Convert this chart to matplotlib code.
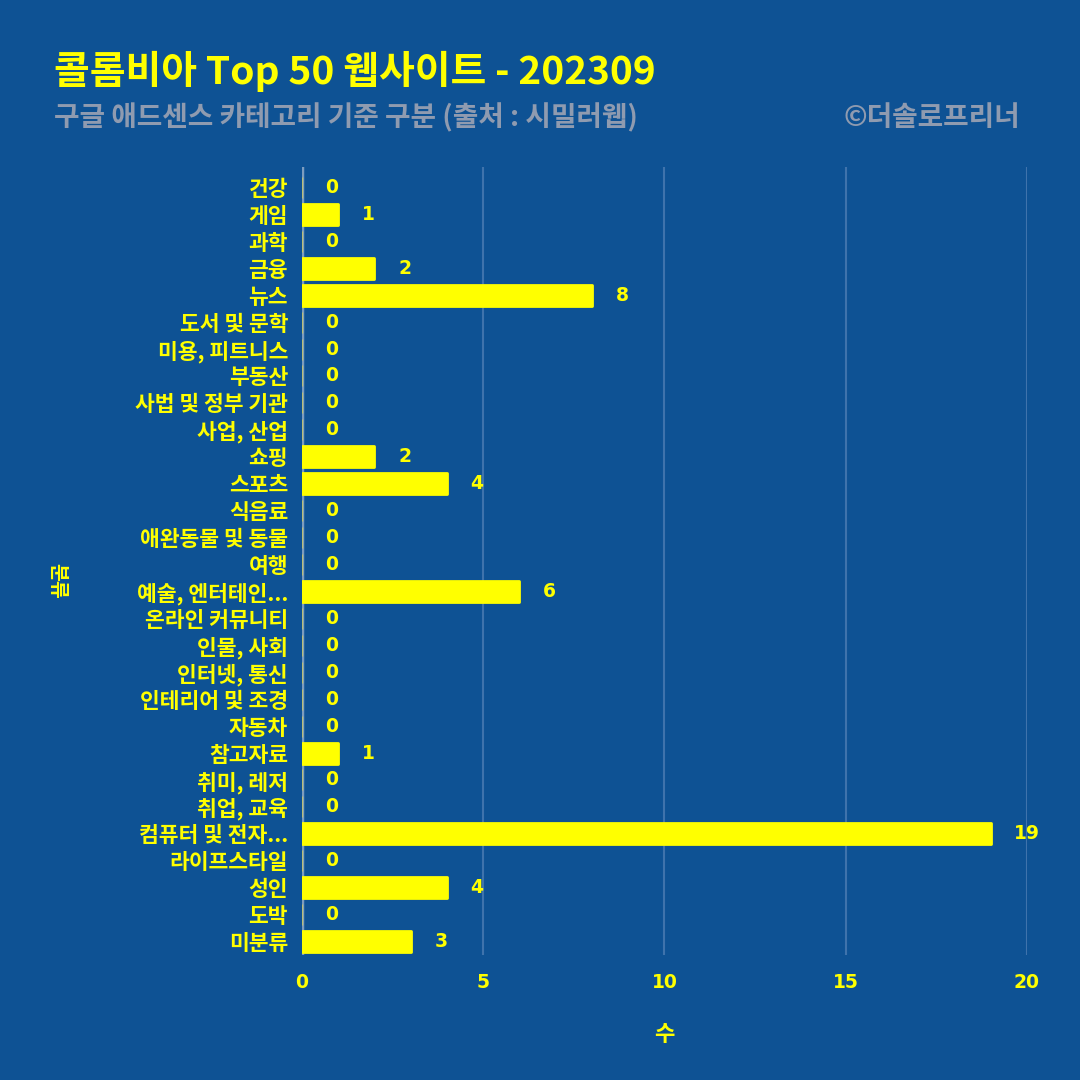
import matplotlib
matplotlib.use("Agg")
import matplotlib.pyplot as plt

plt.rcParams["font.family"] = ["Noto Sans CJK KR", "DejaVu Sans"]

categories = [
    "건강", "게임", "과학", "금융", "뉴스", "도서 및 문학", "미용, 피트니스",
    "부동산", "사법 및 정부 기관", "사업, 산업", "쇼핑", "스포츠", "식음료",
    "애완동물 및 동물", "여행", "예술, 엔터테인...", "온라인 커뮤니티",
    "인물, 사회", "인터넷, 통신", "인테리어 및 조경", "자동차", "참고자료",
    "취미, 레저", "취업, 교육", "컴퓨터 및 전자...", "라이프스타일", "성인",
    "도박", "미분류",
]
counts = [0, 1, 0, 2, 8, 0, 0, 0, 0, 0, 2, 4, 0, 0, 0, 6, 0, 0, 0, 0, 0, 1,
          0, 0, 19, 0, 4, 0, 3]
x_ticks = [0, 5, 10, 15, 20]

BG = "#0E5294"
YEL = "#FFFF00"
GREY = "#8F9BB0"

fig = plt.figure(figsize=(10.8, 10.8), dpi=100, facecolor=BG)
ax = fig.add_axes([0.2796, 0.1157, 0.6713, 0.7297], facecolor=BG)

ypos = list(range(len(categories)))
ax.axvline(0, color="#7C9CBF", linewidth=2.5, zorder=2)
bars = ax.barh(ypos, counts, height=0.78, color=YEL, edgecolor=YEL,
               linewidth=2, joinstyle="round", zorder=3)
for bar, v in zip(bars, counts):
    if v == 0:
        bar.set_edgecolor("#B8BE7A")
        bar.set_linewidth(1.0)
for y, v in zip(ypos, counts):
    ax.text(v + 0.65, y, str(v), color=YEL, fontsize=13.5, fontweight="bold",
            va="center", ha="left", family="DejaVu Sans", zorder=4)

ax.set_xlim(0, 20)
ax.set_ylim(len(categories) - 0.5, -0.76)
ax.set_yticks(ypos)
ax.set_yticklabels(categories, fontsize=15.5, fontweight="bold", color=YEL)
ax.set_xticks(x_ticks)
ax.set_xticklabels([str(t) for t in x_ticks], fontsize=13.5, fontweight="bold",
                   color=YEL, family="DejaVu Sans")
ax.tick_params(axis="both", length=0)
ax.tick_params(axis="x", pad=13)
ax.tick_params(axis="y", pad=10)
for s in ax.spines.values():
    s.set_visible(False)
ax.grid(axis="x", color="#3F73AC", linewidth=1.5, zorder=0)

ax.set_xlabel("수", fontsize=16, fontweight="bold", color=YEL, labelpad=22)
fig.text(0.053, 0.462, "분류", rotation=270, fontsize=14, fontweight="bold",
         color=YEL, ha="center", va="center")

fig.text(0.05, 0.934, "콜롬비아 Top 50 웹사이트 - 202309", fontsize=28,
         fontweight="bold", color=YEL, ha="left", va="center")
fig.text(0.05, 0.891, "구글 애드센스 카테고리 기준 구분 (출처 : 시밀러웹)",
         fontsize=20, fontweight="bold", color=GREY,
         ha="left", va="center")
fig.text(0.945, 0.891, "©더솔로프리너", fontsize=20, fontweight="bold",
         color=GREY, ha="right", va="center")

fig.savefig("out.png", dpi=100, facecolor=BG)
